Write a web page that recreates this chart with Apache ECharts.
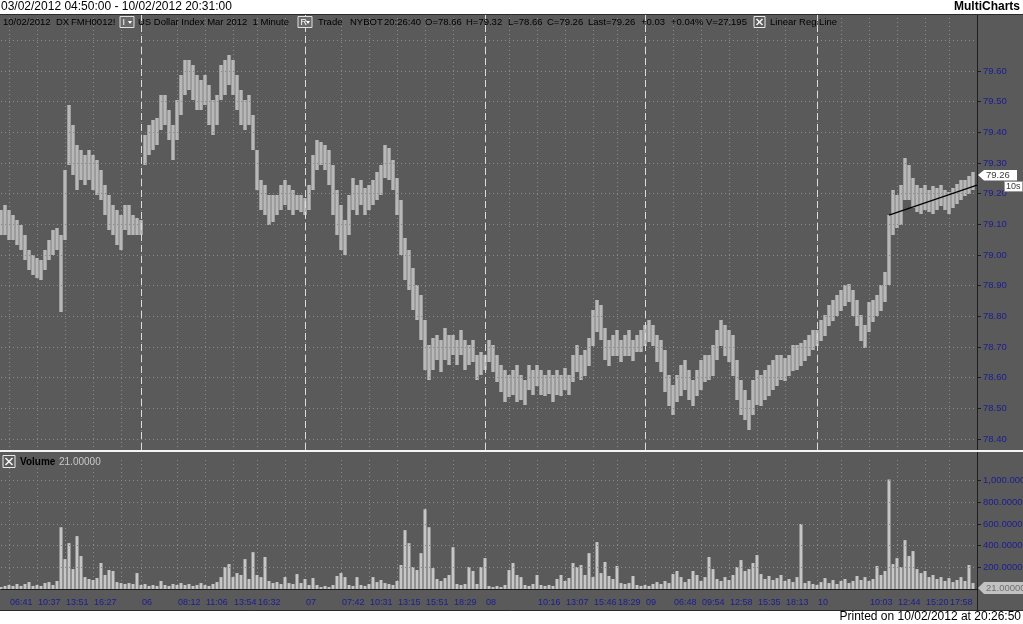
<!DOCTYPE html>
<html><head><meta charset="utf-8">
<script src="https://cdn.jsdelivr.net/npm/echarts@6/dist/echarts.min.js"></script>
<style>html,body{margin:0;padding:0;background:#fff}#c{width:1023px;height:624px}</style>
</head><body><div id="c"></div>
<script>
// ---- data (one bar every ~6 minutes) ----
const priceHigh = [
79.147,79.163,79.147,79.130,79.114,79.098,79.065,79.016,79.000,78.990,
78.984,79.016,79.049,79.081,79.088,79.065,79.277,79.489,79.424,79.359,
79.343,79.326,79.343,79.326,79.310,79.277,79.228,79.196,79.163,79.147,
79.130,79.163,79.163,79.130,79.121,79.114,79.392,79.424,79.440,79.447,
79.522,79.522,79.473,79.424,79.506,79.587,79.636,79.636,79.620,79.587,
79.571,79.587,79.554,79.506,79.522,79.620,79.636,79.652,79.636,79.587,
79.538,79.506,79.522,79.457,79.343,79.245,79.228,79.196,79.196,79.196,
79.228,79.245,79.228,79.212,79.196,79.196,79.186,79.228,79.326,79.375,
79.369,79.359,79.343,79.294,79.212,79.163,79.114,79.196,79.251,79.228,
79.245,79.218,79.228,79.245,79.271,79.294,79.359,79.349,79.310,79.251,
79.179,79.055,79.016,78.958,78.902,78.870,78.788,78.706,78.729,78.739,
78.723,78.762,78.739,78.739,78.723,78.755,78.723,78.706,78.723,78.674,
78.684,78.674,78.723,78.706,78.674,78.641,78.625,78.609,78.625,78.641,
78.609,78.592,78.641,78.625,78.641,78.625,78.609,78.625,78.609,78.625,
78.609,78.632,78.609,78.674,78.706,78.674,78.690,78.729,78.821,78.853,
78.837,78.762,78.723,78.739,78.755,78.723,78.739,78.755,78.723,78.739,
78.755,78.772,78.788,78.772,78.739,78.723,78.690,78.609,78.576,78.609,
78.641,78.658,78.625,78.592,78.625,78.658,78.674,78.674,78.706,78.755,
78.788,78.772,78.755,78.739,78.658,78.592,78.560,78.527,78.592,78.625,
78.609,78.625,78.641,78.658,78.674,78.674,78.664,78.674,78.706,78.706,
78.713,78.723,78.739,78.755,78.755,78.788,78.804,78.837,78.853,78.870,
78.886,78.902,78.905,78.886,78.853,78.804,78.772,78.847,78.853,78.870,
78.902,78.945,79.130,79.212,79.196,79.228,79.316,79.294,79.251,79.228,
79.218,79.228,79.212,79.225,79.218,79.228,79.212,79.205,79.218,79.232,
79.245,79.245,79.258,79.271];
const priceLow = [
79.065,79.065,79.049,79.049,79.033,79.016,78.984,78.951,78.935,78.925,
78.918,78.951,78.984,79.000,79.016,78.814,79.049,79.294,79.261,79.212,
79.245,79.228,79.245,79.212,79.196,79.179,79.130,79.081,79.065,79.033,
79.016,79.081,79.065,79.065,79.065,79.065,79.294,79.326,79.343,79.359,
79.408,79.424,79.375,79.310,79.375,79.457,79.522,79.538,79.506,79.473,
79.473,79.489,79.424,79.392,79.424,79.506,79.522,79.554,79.522,79.473,
79.424,79.408,79.424,79.343,79.212,79.147,79.130,79.098,79.108,79.130,
79.147,79.163,79.147,79.130,79.147,79.140,79.130,79.147,79.212,79.277,
79.294,79.277,79.228,79.130,79.065,79.016,79.000,79.065,79.147,79.130,
79.163,79.130,79.147,79.163,79.179,79.196,79.251,79.245,79.212,79.130,
79.000,78.918,78.886,78.821,78.788,78.723,78.625,78.592,78.625,78.658,
78.618,78.658,78.641,78.674,78.641,78.674,78.625,78.641,78.651,78.592,
78.609,78.625,78.651,78.618,78.586,78.553,78.520,78.537,78.543,78.520,
78.527,78.511,78.560,78.543,78.573,78.543,78.540,78.547,78.520,78.543,
78.540,78.560,78.543,78.586,78.618,78.592,78.605,78.638,78.703,78.749,
78.723,78.658,78.638,78.671,78.671,78.651,78.671,78.671,78.654,78.684,
78.684,78.703,78.716,78.703,78.651,78.618,78.553,78.508,78.478,78.520,
78.540,78.560,78.527,78.508,78.540,78.560,78.586,78.592,78.605,78.658,
78.703,78.671,78.651,78.605,78.527,78.478,78.462,78.429,78.478,78.511,
78.508,78.527,78.540,78.560,78.573,78.592,78.589,78.605,78.622,78.625,
78.638,78.654,78.671,78.690,78.703,78.719,78.736,78.768,78.785,78.801,
78.817,78.834,78.847,78.801,78.768,78.719,78.697,78.749,78.782,78.801,
78.817,78.847,78.902,79.065,79.088,79.098,79.179,79.179,79.153,79.140,
79.134,79.147,79.140,79.134,79.147,79.160,79.147,79.134,79.153,79.166,
79.179,79.192,79.199,79.212];
const volume = [
18000,28000,37000,28000,46000,28000,46000,64000,28000,37000,
28000,55000,64000,37000,74000,570000,276000,423000,184000,488000,
304000,110000,92000,83000,101000,240000,129000,175000,166000,64000,
55000,46000,55000,46000,147000,37000,46000,28000,37000,28000,
74000,37000,28000,46000,37000,55000,37000,46000,28000,37000,
55000,37000,28000,46000,64000,110000,203000,230000,110000,147000,
129000,276000,92000,340000,129000,110000,295000,74000,55000,64000,
46000,110000,55000,46000,138000,55000,92000,37000,101000,37000,
18000,28000,18000,37000,120000,147000,110000,37000,28000,110000,
37000,28000,46000,110000,64000,83000,55000,46000,37000,74000,
221000,543000,423000,203000,175000,331000,736000,570000,193000,92000,
74000,101000,129000,386000,46000,37000,46000,203000,166000,46000,
203000,285000,28000,18000,28000,18000,37000,175000,240000,129000,
110000,37000,28000,46000,129000,37000,28000,37000,28000,92000,
129000,74000,101000,240000,203000,221000,129000,331000,110000,433000,
147000,249000,120000,92000,212000,55000,46000,55000,120000,37000,
28000,37000,28000,46000,64000,46000,74000,55000,138000,166000,
110000,64000,92000,166000,129000,74000,110000,295000,184000,92000,
74000,110000,83000,129000,203000,267000,166000,184000,240000,313000,
138000,92000,120000,83000,101000,129000,74000,92000,64000,110000,
600000,55000,74000,46000,37000,64000,101000,55000,83000,46000,
74000,92000,55000,74000,120000,83000,110000,74000,92000,212000,
129000,166000,1010000,230000,285000,203000,451000,304000,350000,184000,
147000,166000,110000,129000,92000,110000,74000,101000,64000,83000,
110000,74000,221000,55000];
const tickIdx  = [2,9,16,23,30,35,44,51,58,64,71,76,85,92,99,106,113,121,127,134,141,148,154,161,168,175,182,189,196,204,210,217,224,231,237];
const tickText = ['06:41','10:37','13:51','16:27','','06','08:12','11:06','13:54','16:32','','07','07:42','10:31','13:15','15:51','18:29','08','','10:16','13:07','15:46','18:29','09','06:48','09:54','12:58','15:35','18:13','10','','10:03','12:44','15:20','17:58'];
const dayBreakIdx = [35,76,121,161,204];
const priceTicks = [78.4,78.5,78.6,78.7,78.8,78.9,79.0,79.1,79.2,79.3,79.4,79.5,79.6];
const priceGridVals = [78.4,78.5,78.6,78.7,78.8,78.9,79.0,79.1,79.2,79.3,79.4,79.5,79.6,79.7];
const volTicks = [200000,400000,600000,800000,1000000];
const volTickText = ['200.00000','400.00000','600.00000','800.00000','1,000.00000'];
const regStart = [222, 79.13];
const regEnd = [244, 79.228];
const lastPrice = '79.26';
const lastVolume = '21.00000';

// ---- chart ----
const FF = '"Liberation Sans", Arial, sans-serif';
const AX = '#1c1c96';
const cats = Array.from({length: priceHigh.length + 1}, (_, i) => String(i));
const tickMap = new Map(tickIdx.map((v, k) => [v, tickText[k]]));
const isTick = (i) => tickMap.has(Number(i));
const dotted = {color: '#8c8c8c', width: 1, type: [1, 3]};

function txt(x, y, text, o) {
  o = o || {};
  return {type: 'text', x: x, y: y, z: o.z || 102, silent: true,
    style: {text: text, font: (o.weight || 'normal') + ' ' + (o.size || 9.5) + 'px ' + FF,
      fill: o.fill || '#000', align: o.align || 'left', verticalAlign: 'middle',
      textAlign: o.align || 'left', textVerticalAlign: 'middle'}};
}
function xbox(x, y, s) {
  return [
    {type: 'rect', z: 100, silent: true, shape: {x: x, y: y, width: s, height: s}, style: {fill: '#5a5a5a', stroke: '#e8e8e8', lineWidth: 1}},
    {type: 'line', z: 101, silent: true, shape: {x1: x + 2.5, y1: y + 2.5, x2: x + s - 2.5, y2: y + s - 2.5}, style: {stroke: '#f2f2f2', lineWidth: 1.6}},
    {type: 'line', z: 101, silent: true, shape: {x1: x + s - 2.5, y1: y + 2.5, x2: x + 2.5, y2: y + s - 2.5}, style: {stroke: '#f2f2f2', lineWidth: 1.6}}
  ];
}
function dropBox(x, y, letter) {
  return [
    {type: 'rect', z: 100, silent: true, shape: {x: x, y: y, width: 14, height: 11}, style: {fill: '#6a6a6a', stroke: '#e0e0e0', lineWidth: 1}},
    txt(x + 2.5, y + 6, letter, {fill: '#fff', size: 9}),
    {type: 'polygon', z: 101, silent: true, shape: {points: [[x + 8, y + 4.5], [x + 12, y + 4.5], [x + 10, y + 7.5]]}, style: {fill: '#fff'}}
  ];
}

const elements = [
  {type: 'rect', z: 100, silent: true, shape: {x: 0, y: 0, width: 1023, height: 14}, style: {fill: '#fff'}},
  txt(1, 7, '03/02/2012 04:50:00 - 10/02/2012 20:31:00', {size: 12}),
  txt(1020, 7, 'MultiCharts', {size: 12, weight: 'bold', align: 'right'}),
  {type: 'line', z: 100, silent: true, shape: {x1: 0, y1: 14.5, x2: 1023, y2: 14.5}, style: {stroke: '#2a2a2a', lineWidth: 1}},
  txt(3, 22, '10/02/2012'), txt(56, 22, 'DX'), txt(71, 22, 'FMH0012!'),
  ...dropBox(120, 16.5, 'I'),
  txt(138, 22, 'US Dollar Index Mar 2012  1 Minute'),
  ...dropBox(298, 16.5, 'R'),
  txt(318, 22, 'Trade'), txt(350, 22, 'NYBOT'), txt(384, 22, '20:26:40'),
  txt(425, 22, 'O=78.66'), txt(466, 22, 'H=79.32'), txt(508, 22, 'L=78.66'),
  txt(547, 22, 'C=79.26'), txt(588, 22, 'Last=79.26'), txt(641, 22, '+0.03'),
  txt(671, 22, '+0.04%'), txt(706, 22, 'V=27,195'),
  ...xbox(754, 16.5, 11),
  txt(770, 22, 'Linear Reg Line'),
  // right axis line
  {type: 'line', z: 100, silent: true, shape: {x1: 977.5, y1: 15, x2: 977.5, y2: 610}, style: {stroke: '#1e1e1e', lineWidth: 1}},
  // pane separator
  {type: 'line', z: 100, silent: true, shape: {x1: 0, y1: 451, x2: 1023, y2: 451}, style: {stroke: '#f4f4f4', lineWidth: 2}},
  ...xbox(3, 455.5, 12),
  txt(20, 462, 'Volume', {weight: 'bold', size: 10}),
  txt(59, 462, lastVolume, {fill: '#c8c8c8', size: 10}),
  // bottom
  {type: 'line', z: 100, silent: true, shape: {x1: 0, y1: 610.5, x2: 1023, y2: 610.5}, style: {stroke: '#2a2a2a', lineWidth: 1}},
  {type: 'rect', z: 100, silent: true, shape: {x: 0, y: 611, width: 1023, height: 13}, style: {fill: '#fff'}},
  txt(1021, 617, 'Printed on 10/02/2012 at 20:26:50', {size: 12, align: 'right'}),
  // last-price marker
  {type: 'polygon', z: 100, silent: true, shape: {points: [[978, 175], [984, 170], [1017, 170], [1017, 180.5], [984, 180.5]]}, style: {fill: '#fff'}},
  txt(986, 175.5, lastPrice, {fill: '#3a3a3a', size: 9.5}),
  {type: 'rect', z: 101, silent: true, shape: {x: 1004.5, y: 181.5, width: 18, height: 10}, style: {fill: '#fff', stroke: '#9a9a9a', lineWidth: 1}},
  txt(1006, 186.5, '10s', {fill: '#3a3a3a', size: 9, z: 103}),
  // last-volume marker
  {type: 'polygon', z: 100, silent: true, shape: {points: [[978, 588], [984, 582], [1023, 582], [1023, 594], [984, 594]]}, style: {fill: '#c2c2c2'}},
  txt(986, 588, lastVolume, {fill: '#707070', size: 9.5})
];

const xBase = {type: 'category', data: cats, boundaryGap: false,
  axisLine: {show: false}, axisTick: {show: false}, axisLabel: {show: false},
  splitLine: {show: true, interval: (i) => isTick(i), lineStyle: dotted}};

const option = {
  animation: false,
  backgroundColor: '#5a5a5a',
  textStyle: {fontFamily: FF},
  grid: [
    {left: 1, right: 46, top: 14, bottom: 174, outerBoundsMode: 'none', containLabel: false},
    {left: 1, right: 46, top: 460, bottom: 35, outerBoundsMode: 'none', containLabel: false}
  ],
  xAxis: [
    Object.assign({}, xBase, {gridIndex: 0}),
    Object.assign({}, xBase, {gridIndex: 1, offset: 6,
      axisLine: {show: true, lineStyle: {color: '#1e1e1e'}},
      axisTick: {show: true, inside: true, length: 4, interval: (i) => isTick(i), lineStyle: {color: '#1e1e1e'}},
      axisLabel: {show: true, interval: (i) => !!tickMap.get(Number(i)),
        formatter: (v) => tickMap.get(Number(v)) || '', align: 'left', padding: [0, 0, 0, 1],
        color: AX, fontSize: 9, margin: 3, fontFamily: FF}})
  ],
  yAxis: [
    {type: 'value', gridIndex: 0, position: 'right', min: 78.364, max: 79.786,
      axisLine: {show: false},
      axisTick: {show: true, length: 4, customValues: priceTicks, lineStyle: {color: '#1e1e1e'}},
      axisLabel: {customValues: priceTicks, formatter: (v) => v.toFixed(2), color: AX, fontSize: 9.5, margin: 6, fontFamily: FF},
      splitLine: {show: false}},
    {type: 'value', gridIndex: 1, position: 'right', min: 0, max: 1190000,
      axisLine: {show: false},
      axisTick: {show: true, length: 4, customValues: volTicks, lineStyle: {color: '#1e1e1e'}},
      axisLabel: {customValues: volTicks, formatter: (v) => volTickText[volTicks.indexOf(v)] || '', color: AX, fontSize: 9.5, margin: 6, fontFamily: FF},
      splitLine: {show: false}}
  ],
  series: [
    {type: 'line', xAxisIndex: 0, yAxisIndex: 0, data: priceLow, symbol: 'none', silent: true, z: 1,
      lineStyle: {opacity: 0},
      markLine: {silent: true, symbol: ['none', 'none'], label: {show: false},
        data: priceGridVals.map(v => ({yAxis: v, lineStyle: dotted}))
          .concat(dayBreakIdx.map(i => ({xAxis: i, lineStyle: {color: '#dcdcdc', width: 1, type: [7, 4]}})))}},
    {type: 'custom', xAxisIndex: 0, yAxisIndex: 0, z: 3, silent: true,
      data: priceHigh.map((h, i) => [i, priceLow[i], h]),
      encode: {x: 0, y: [1, 2]},
      renderItem: function (params, api) {
        const i = api.value(0);
        const top = api.coord([i, api.value(2)]);
        const bot = api.coord([i, api.value(1)]);
        const x0 = Math.round(top[0]);
        return {type: 'group', children: [
          {type: 'rect', shape: {x: x0 - 2, y: Math.round(top[1]), width: 4, height: Math.max(1, Math.round(bot[1] - top[1]))},
            style: {fill: '#9c9c9c'}},
          {type: 'rect', shape: {x: x0 - 1, y: Math.round(top[1]), width: 2, height: Math.max(1, Math.round(bot[1] - top[1]))},
            style: {fill: '#b8b8b8'}}
        ]};
      }},
    {type: 'line', xAxisIndex: 0, yAxisIndex: 0, data: priceHigh, symbol: 'none', silent: true, z: 5,
      lineStyle: {opacity: 0},
      markLine: {silent: true, symbol: ['none', 'none'], label: {show: false},
        lineStyle: {color: '#000', width: 1.2, type: 'solid'},
        data: [[{coord: regStart}, {coord: regEnd}]]}},
    {type: 'line', xAxisIndex: 1, yAxisIndex: 1, data: volume, symbol: 'none', silent: true, z: 1,
      lineStyle: {opacity: 0},
      markLine: {silent: true, symbol: ['none', 'none'], label: {show: false},
        data: volTicks.map(v => ({yAxis: v, lineStyle: dotted}))}},
    {type: 'bar', xAxisIndex: 1, yAxisIndex: 1, data: volume, z: 3, silent: true,
      barWidth: 3, itemStyle: {color: '#c6c6c6'}}
  ],
  graphic: {elements: elements}
};
const chart = echarts.init(document.getElementById('c'), null, {renderer: 'canvas'});
chart.setOption(option);
</script></body></html>
